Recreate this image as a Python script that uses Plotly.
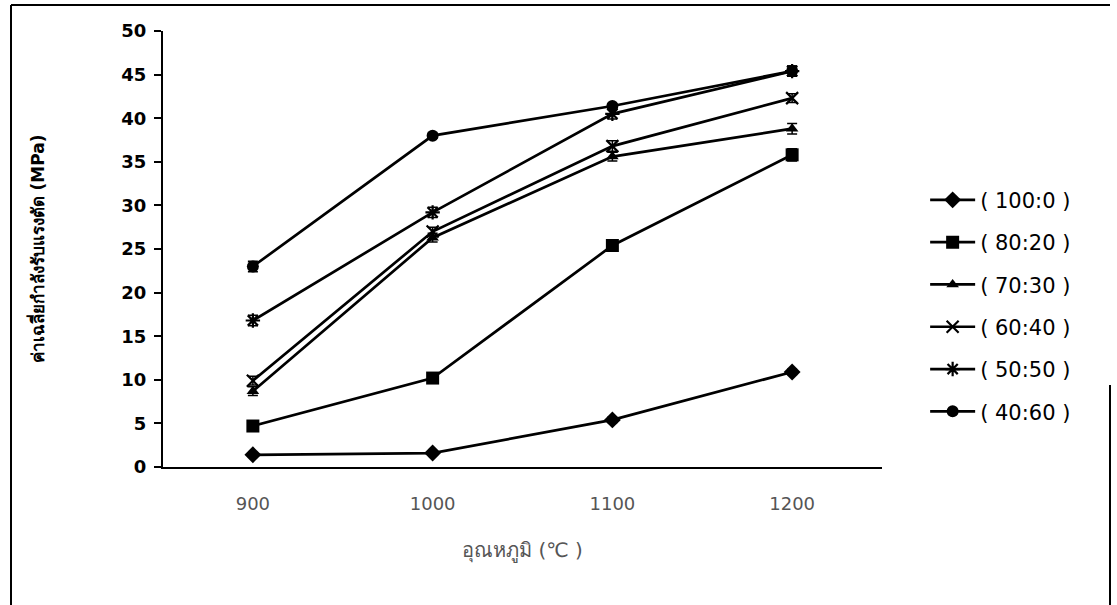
import plotly.graph_objects as go

# Sintering temperature (°C) categories
temperatures = ["900", "1000", "1100", "1200"]

# Mixture ratios shown in the legend
ratios = ["( 100:0 )", "( 80:20 )", "( 70:30 )", "( 60:40 )", "( 50:50 )", "( 40:60 )"]

# Mean shear strength (MPa) for each ratio
shear_100_0 = [1.4, 1.6, 5.4, 10.9]
shear_80_20 = [4.7, 10.2, 25.4, 35.8]
shear_70_30 = [8.7, 26.3, 35.6, 38.8]
shear_60_40 = [9.9, 27.0, 36.8, 42.3]
shear_50_50 = [16.8, 29.2, 40.5, 45.4]
shear_40_60 = [23.0, 38.0, 41.4, 45.4]

# Small standard deviations (MPa)
err_100_0 = [0.2, 0.2, 0.3, 0.3]
err_80_20 = [0.3, 0.3, 0.3, 0.7]
err_70_30 = [0.5, 0.5, 0.5, 0.6]
err_60_40 = [0.5, 0.5, 0.6, 0.5]
err_50_50 = [0.6, 0.6, 0.6, 0.6]
err_40_60 = [0.6, 0.3, 0.3, 0.6]

series = [
    (shear_100_0, err_100_0, "diamond", 13, 0),
    (shear_80_20, err_80_20, "square", 13, 0),
    (shear_70_30, err_70_30, "triangle-up", 11, 0),
    (shear_60_40, err_60_40, "x-thin-open", 12, 2.2),
    (shear_50_50, err_50_50, "asterisk-open", 12, 2.2),
    (shear_40_60, err_40_60, "circle", 12, 0),
]

fig = go.Figure()
for name, (vals, errs, sym, size, mlw) in zip(ratios, series):
    fig.add_trace(go.Scatter(
        x=temperatures, y=vals, name=name, mode="lines+markers",
        legendgroup=name,
        line=dict(color="black", width=2.7),
        marker=dict(symbol=sym, size=size, color="black",
                    line=dict(color="black", width=mlw)),
        error_y=dict(type="data", array=errs, color="black", thickness=1.5, width=5),
    ))

fig.update_layout(
    width=1117, height=605,
    margin=dict(l=163, r=235, t=31, b=138),
    paper_bgcolor="white", plot_bgcolor="white",
    showlegend=True,
    legend=dict(
        x=1.06, y=0.37, xanchor="left", yanchor="middle",
        font=dict(family="DejaVu Sans", size=21, color="black"),
        tracegroupgap=12, itemwidth=45,
        bgcolor="rgba(0,0,0,0)",
    ),
    xaxis=dict(
        type="category", range=[-0.5, 3.5],
        showline=True, linecolor="black", linewidth=2,
        ticks="", showgrid=False, zeroline=False,
        ticklabelstandoff=19,
        tickfont=dict(family="DejaVu Sans", size=18, color="#555555"),
        title=dict(text="อุณหภูมิ (℃ )", standoff=30,
                   font=dict(family="DejaVu Sans", size=20, color="#555555")),
    ),
    yaxis=dict(
        range=[0, 50], dtick=5,
        showline=True, linecolor="black", linewidth=2,
        ticks="outside", ticklen=7, tickwidth=1.5, tickcolor="black",
        showgrid=False, zeroline=False,
        ticklabelstandoff=4,
        tickfont=dict(family="DejaVu Sans", size=18, color="black", weight="bold"),
        title=dict(text="ค่าเฉลี่ยกำลังรับแรงตัด (MPa)", standoff=72,
                   font=dict(family="DejaVu Sans", size=17, color="black", weight="bold")),
    ),
)

# Page frame
frame = dict(type="line", xref="paper", yref="paper", line=dict(color="black", width=2))
x0 = -152 / 719
x1 = 1 + 228 / 719
ytop = 1 + 26 / 436
fig.add_shape(**frame, x0=x0, x1=x1, y0=ytop, y1=ytop)
fig.add_shape(**frame, x0=x0, x1=x0, y0=ytop, y1=-138 / 436)
fig.add_shape(**frame, x0=x1, x1=x1, y0=(467 - 385) / 436, y1=-138 / 436)

fig.write_html("out.html")
